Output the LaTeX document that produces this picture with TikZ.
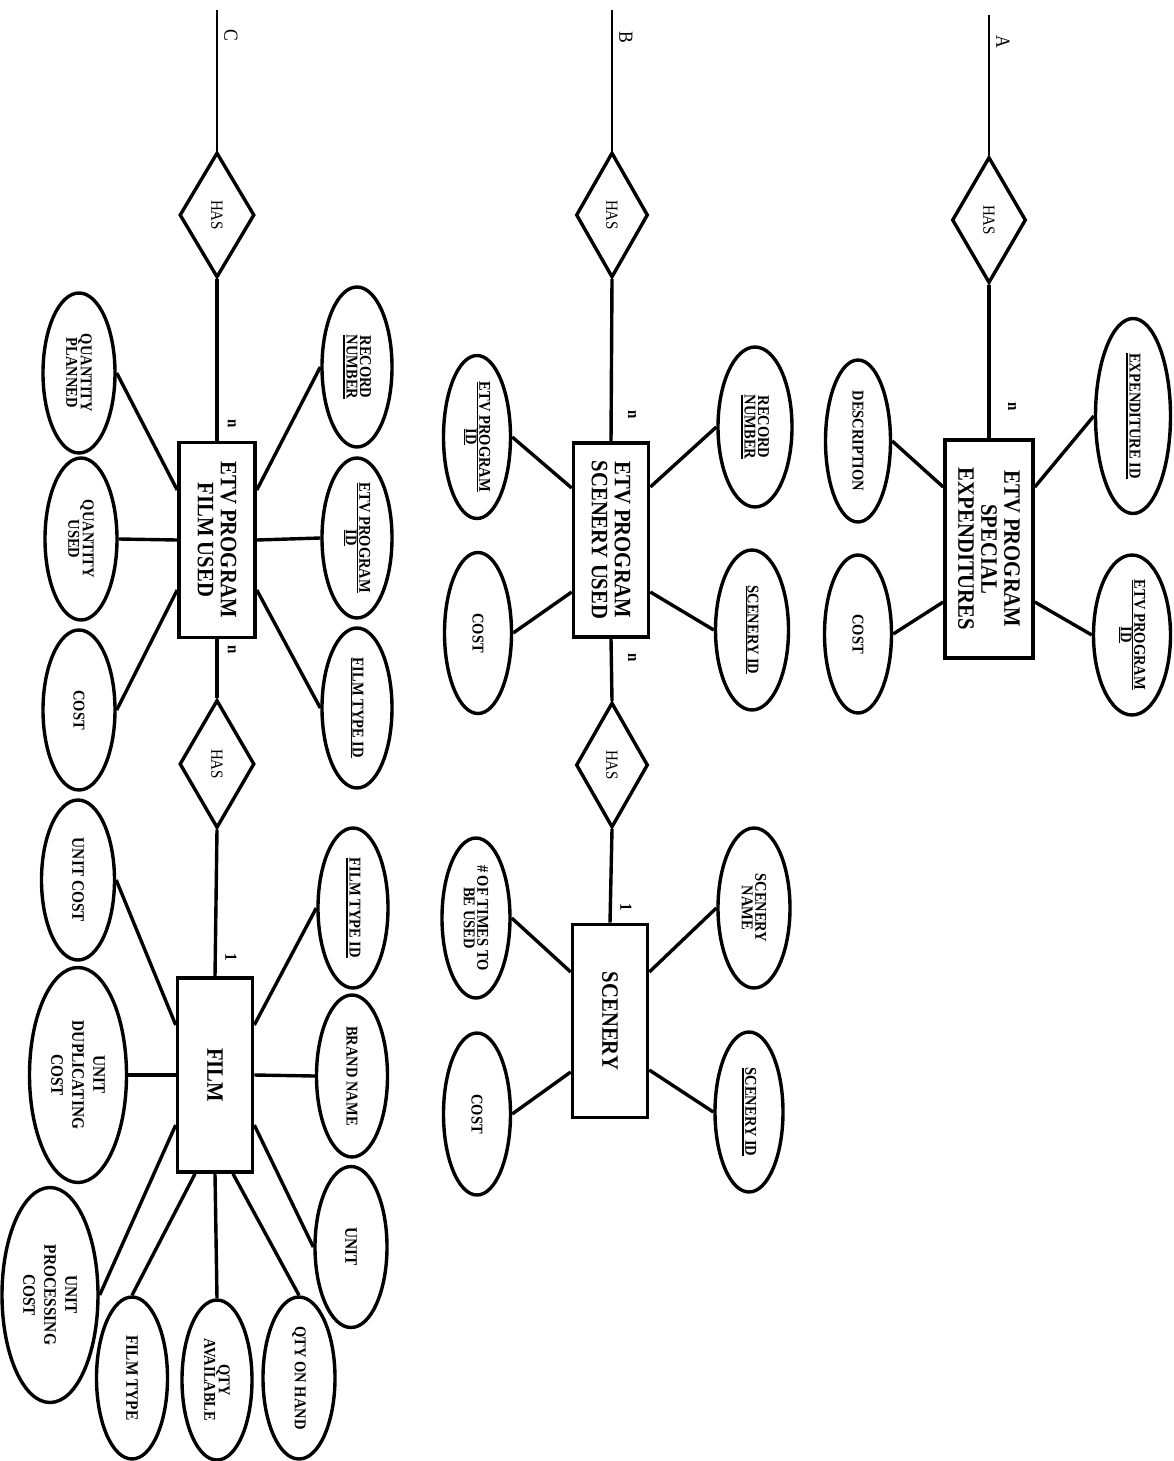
\documentclass[tikz,border=0pt]{standalone}
\usepackage{fontspec}
\setmainfont[FakeStretch=0.88]{Liberation Serif}
\usetikzlibrary{shapes.geometric}
\newcommand\tkul[1]{\setbox0\hbox{#1}\rlap{\rule[-3.8pt]{\wd0}{2.6pt}}\box0}
\tikzset{
  ent/.style={draw, line width=3.6pt, rectangle, inner sep=0pt},
  attr/.style={draw, line width=3.4pt, ellipse, inner sep=0pt},
  rel/.style={draw, line width=3.4pt, diamond, inner sep=0pt},
  lnk/.style={line width=3.4pt},
  thin lnk/.style={line width=2.8pt},
  rt/.style={rotate=-90, inner sep=0pt, align=center},
  enttxt/.style={rt, font=\fontsize{23.5}{23}\selectfont\bfseries},
  attrtxt/.style={rt, font=\fontsize{16.5}{13.5}\selectfont\bfseries},
  bigtxt/.style={rt, font=\fontsize{17.5}{21}\selectfont\bfseries},
  reltxt/.style={rt, font=\fontsize{17}{15}\selectfont},
  cardtxt/.style={rt, font=\fontsize{17}{16}\selectfont\bfseries},
  contxt/.style={rt, font=\fontsize{20}{19}\selectfont}
}
\begin{document}
\begin{tikzpicture}[x=1pt,y=-1pt]
\useasboundingbox[fill=white] (0,0) rectangle (1173,1461);

% ===================== A =====================
\coordinate (topA) at (989,15);
\node[contxt] (labA) at (1003,42) {A};
\node[rel, minimum width=74, minimum height=126, label={[reltxt]center:HAS}] (hasA) at (989,220) {};
\node[ent, minimum width=88, minimum height=218, label={[enttxt]center:{ETV PROGRAM\\SPECIAL\\EXPENDITURES}}] (boxA) at (989,549) {};
\node[cardtxt] (nA) at (1012,407) {n};
\node[attr, minimum width=75, minimum height=195, label={[attrtxt]center:{\tkul{EXPENDITURE ID}}}] (expid) at (1133,416) {};
\node[attr, minimum width=77, minimum height=160, label={[attrtxt]center:{\underline{ETV PROGRAM}\\\underline{ID}}}] (etvidA) at (1132,635) {};
\node[attr, minimum width=65, minimum height=162, label={[attrtxt]center:{DESCRIPTION}}] (descA) at (858,441) {};
\node[attr, minimum width=67, minimum height=158, label={[attrtxt]center:{COST}}] (costA) at (858,634) {};

\draw[thin lnk] (topA) -- (hasA.north);
\draw[lnk] (hasA.south) -- (boxA.north);
\draw[lnk] ([yshift=62pt]boxA.east) -- (expid.west);
\draw[lnk] ([yshift=-53pt]boxA.east) -- (etvidA.west);
\draw[lnk] (descA.east) -- ([yshift=62pt]boxA.west);
\draw[lnk] ([yshift=-53pt]boxA.west) -- (costA.east);

% ===================== B =====================
\coordinate (topB) at (612,10);
\node[contxt] (labB) at (626,37) {B};
\node[rel, minimum width=72, minimum height=125, label={[reltxt]center:HAS}] (hasB1) at (612,215) {};
\node[ent, minimum width=75, minimum height=194, label={[enttxt]center:{ETV PROGRAM\\SCENERY USED}}] (boxB) at (611,540) {};
\node[cardtxt] (nB1) at (632,415) {n};
\node[cardtxt] (nB2) at (632,658) {n};
\node[attr, minimum width=74, minimum height=160, label={[attrtxt]center:{RECORD\\\tkul{NUMBER}}}] (recB) at (755,427) {};
\node[attr, minimum width=73, minimum height=160, label={[attrtxt]center:{\underline{SCENERY ID}}}] (scidB) at (752,630) {};
\node[attr, minimum width=67, minimum height=163, label={[attrtxt]center:{\underline{ETV PROGRAM}\\\underline{ID}}}] (etvidB) at (477,437) {};
\node[attr, minimum width=67, minimum height=161, label={[attrtxt]center:{COST}}] (costB) at (478,633) {};
\node[rel, minimum width=72, minimum height=125, label={[reltxt]center:HAS}] (hasB2) at (612,765) {};
\node[cardtxt] (oneB) at (626,907) {1};
\node[ent, minimum width=75, minimum height=193, label={[enttxt]center:{SCENERY}}] (scen) at (610,1021) {};
\node[attr, minimum width=72, minimum height=160, label={[attrtxt]center:{SCENERY\\NAME}}] (scname) at (754,908) {};
\node[attr, minimum width=68, minimum height=160, label={[attrtxt]center:{\tkul{SCENERY ID}}}] (scid2) at (749,1112) {};
\node[attr, minimum width=68, minimum height=160, label={[attrtxt]center:{\# OF TIMES TO\\BE USED}}] (times) at (476,918) {};
\node[attr, minimum width=67, minimum height=162, label={[attrtxt]center:{COST}}] (costS) at (477,1114) {};

\draw[thin lnk] (topB) -- (hasB1.north);
\draw[lnk] (hasB1.south) -- (boxB.north);
\draw[lnk] (boxB.south) -- (hasB2.north);
\draw[lnk] (hasB2.south) -- (scen.north);
\draw[lnk] ([yshift=53pt]boxB.east) -- (recB.west);
\draw[lnk] ([yshift=-52pt]boxB.east) -- (scidB.west);
\draw[lnk] (etvidB.east) -- ([yshift=52pt]boxB.west);
\draw[lnk] ([yshift=-52pt]boxB.west) -- (costB.east);
\draw[lnk] ([yshift=49pt]scen.east) -- (scname.west);
\draw[lnk] ([yshift=-49pt]scen.east) -- (scid2.west);
\draw[lnk] (times.east) -- ([yshift=49pt]scen.west);
\draw[lnk] ([yshift=-51pt]scen.west) -- (costS.east);

% ===================== C =====================
\coordinate (topC) at (217,10);
\node[contxt] (labC) at (231,35) {C};
\node[rel, minimum width=75, minimum height=125, label={[reltxt]center:HAS}] (hasC1) at (217,215) {};
\node[ent, minimum width=76, minimum height=195, label={[enttxt]center:{ETV PROGRAM\\FILM USED}}] (boxC) at (217,540) {};
\node[cardtxt] (nC1) at (232,424) {n};
\node[cardtxt] (nC2) at (232,650) {n};
\node[attr, minimum width=70, minimum height=160, label={[attrtxt]center:{RECORD\\\tkul{NUMBER}}}] (recC) at (357,367) {};
\node[attr, minimum width=70, minimum height=160, label={[attrtxt]center:{\underline{ETV PROGRAM}\\\underline{ID}}}] (etvidC) at (357,538) {};
\node[attr, minimum width=70, minimum height=160, label={[attrtxt]center:{\underline{FILM TYPE ID}}}] (ftidC) at (357,708) {};
\node[attr, minimum width=72, minimum height=160, label={[attrtxt]center:{QUANTITY\\PLANNED}}] (qplan) at (79,373) {};
\node[attr, minimum width=72, minimum height=162, label={[attrtxt]center:{QUANTITY\\USED}}] (qused) at (81,539) {};
\node[attr, minimum width=72, minimum height=160, label={[attrtxt]center:{COST}}] (costC) at (79,710) {};
\node[rel, minimum width=75, minimum height=128, label={[reltxt]center:HAS}] (hasC2) at (217,764) {};
\node[cardtxt] (oneC) at (231,957) {1};
\node[ent, minimum width=75, minimum height=194, label={[enttxt]center:{FILM}}] (film) at (215,1075) {};
\node[attr, minimum width=70, minimum height=160, label={[attrtxt]center:{\tkul{FILM TYPE ID}}}] (ftid2) at (353,908) {};
\node[attr, minimum width=71, minimum height=162, label={[attrtxt]center:{BRAND NAME}}] (brand) at (352,1076) {};
\node[attr, minimum width=72, minimum height=161, label={[bigtxt]center:{UNIT}}] (unit) at (351,1247) {};
\node[attr, minimum width=72, minimum height=162, label={[attrtxt]center:{QTY ON HAND}}] (qoh) at (299,1378) {};
\node[attr, minimum width=70, minimum height=160, label={[attrtxt]center:{QTY\\AVAILABLE}}] (qavail) at (217,1380) {};
\node[attr, minimum width=71, minimum height=162, label={[bigtxt]center:{FILM TYPE}}] (ftype) at (132,1378) {};
\node[attr, minimum width=96, minimum height=215, label={[bigtxt]center:{UNIT\\PROCESSING\\COST}}] (upc) at (50,1295) {};
\node[attr, minimum width=97, minimum height=215, label={[bigtxt]center:{UNIT\\DUPLICATING\\COST}}] (udc) at (78,1075) {};
\node[attr, minimum width=73, minimum height=160, label={[bigtxt]center:{UNIT COST}}] (ucost) at (78,880) {};

\draw[thin lnk] (topC) -- (hasC1.north);
\draw[lnk] (hasC1.south) -- (boxC.north);
\draw[lnk] (boxC.south) -- (hasC2.north);
\draw[lnk] (hasC2.south) -- (film.north);
\draw[lnk] ([yshift=50pt]boxC.east) -- (recC.west);
\draw[lnk] (boxC.east) -- (etvidC.west);
\draw[lnk] ([yshift=-50pt]boxC.east) -- (ftidC.west);
\draw[lnk] (qplan.east) -- ([yshift=50pt]boxC.west);
\draw[lnk] (qused.east) -- (boxC.west);
\draw[lnk] ([yshift=-50pt]boxC.west) -- (costC.east);

\draw[lnk] ([yshift=50pt]film.east) -- (ftid2.west);
\draw[lnk] (film.east) -- (brand.west);
\draw[lnk] ([yshift=-50pt]film.east) -- (unit.west);
\draw[lnk] (ucost.east) -- ([yshift=50pt]film.west);
\draw[lnk] (udc.east) -- (film.west);
\draw[lnk] ([yshift=-50pt]film.west) -- (upc.east);
\draw[lnk] ([xshift=-20pt]film.south) -- (ftype.north);
\draw[lnk] (film.south) -- (qavail.north);
\draw[lnk] ([xshift=18pt]film.south) -- (qoh.north);
\end{tikzpicture}
\end{document}
